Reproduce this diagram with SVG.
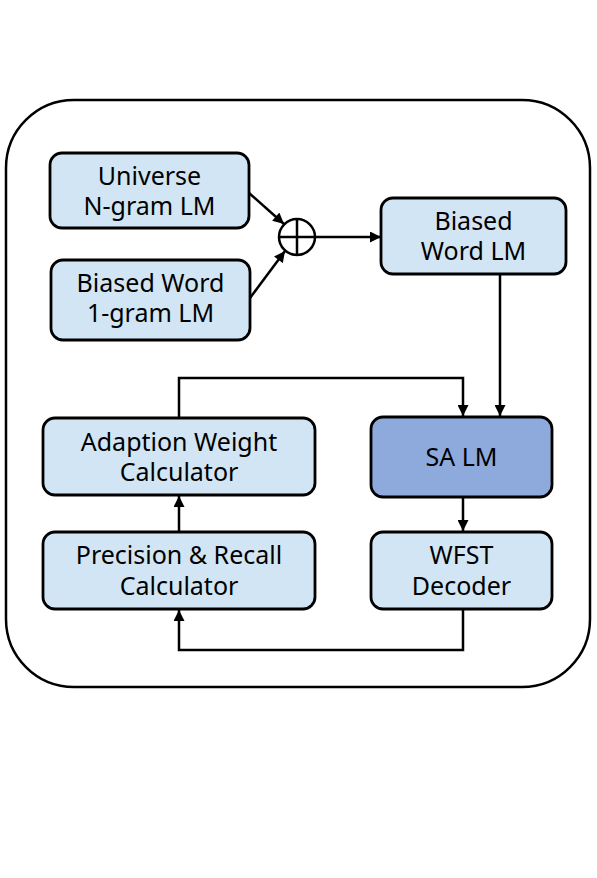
<svg xmlns="http://www.w3.org/2000/svg" width="597" height="878" viewBox="0 0 597 878">
<style>
.box{fill:#d2e5f4;stroke:#000;stroke-width:2.8}
.dark{fill:#8eaadc}
.t{font-family:"Noto Sans","Open Sans","DejaVu Sans",sans-serif;font-size:25px;text-anchor:middle;fill:#000}
.c{fill:none;stroke:#000;stroke-width:2.5}
</style>
<defs>
<marker id="a" viewBox="0 0 10 10" refX="10" refY="5" markerWidth="12" markerHeight="11" orient="auto" markerUnits="userSpaceOnUse">
<path d="M0,0 L10,5 L0,10 Z" fill="#000"/>
</marker>
</defs>
<rect width="597" height="878" fill="#fff"/>
<rect x="6" y="100" width="584" height="587" rx="68" ry="68" fill="none" stroke="#000" stroke-width="2.5"/>
<g id="connectors">
<line class="c" x1="249" y1="193" x2="284" y2="224" marker-end="url(#a)"/>
<line class="c" x1="250" y1="298" x2="285" y2="251" marker-end="url(#a)"/>
<line class="c" x1="315" y1="237" x2="381" y2="237" marker-end="url(#a)"/>
<line class="c" x1="500" y1="274" x2="500" y2="416" marker-end="url(#a)"/>
<polyline class="c" points="179,418 179,378 463,378 463,416" marker-end="url(#a)"/>
<line class="c" x1="463" y1="497" x2="463" y2="531" marker-end="url(#a)"/>
<line class="c" x1="179" y1="532" x2="179" y2="496" marker-end="url(#a)"/>
<polyline class="c" points="463,609 463,650 179,650 179,610" marker-end="url(#a)"/>
</g>
<g id="plus">
<circle cx="297" cy="237" r="18" fill="#fff" stroke="#000" stroke-width="2.5"/>
<line class="c" x1="279" y1="237" x2="315" y2="237"/>
<line class="c" x1="297" y1="219" x2="297" y2="255"/>
</g>
<g id="universe">
<rect class="box" x="50" y="153" width="199" height="75" rx="12"/>
<text class="t" x="149.500" y="185">Universe</text>
<text class="t" x="149.500" y="215">N-gram LM</text>
</g>
<g id="biased1gram">
<rect class="box" x="51" y="260" width="199" height="80" rx="12"/>
<text class="t" x="150.500" y="292">Biased Word</text>
<text class="t" x="150.500" y="322">1-gram LM</text>
</g>
<g id="biasedwordlm">
<rect class="box" x="381" y="198" width="185" height="76" rx="12"/>
<text class="t" x="473.500" y="230">Biased</text>
<text class="t" x="473.500" y="260">Word LM</text>
</g>
<g id="adaption">
<rect class="box" x="43" y="418" width="272" height="77" rx="12"/>
<text class="t" x="179" y="451">Adaption Weight</text>
<text class="t" x="179" y="481">Calculator</text>
</g>
<g id="salm">
<rect class="box dark" x="371" y="417" width="181" height="80" rx="12"/>
<text class="t" x="461.500" y="466">SA LM</text>
</g>
<g id="precision">
<rect class="box" x="43" y="532" width="272" height="77" rx="12"/>
<text class="t" x="179" y="564">Precision &amp; Recall</text>
<text class="t" x="179" y="595">Calculator</text>
</g>
<g id="wfst">
<rect class="box" x="371" y="532" width="181" height="77" rx="12"/>
<text class="t" x="461.500" y="564">WFST</text>
<text class="t" x="461.500" y="595">Decoder</text>
</g>
</svg>
